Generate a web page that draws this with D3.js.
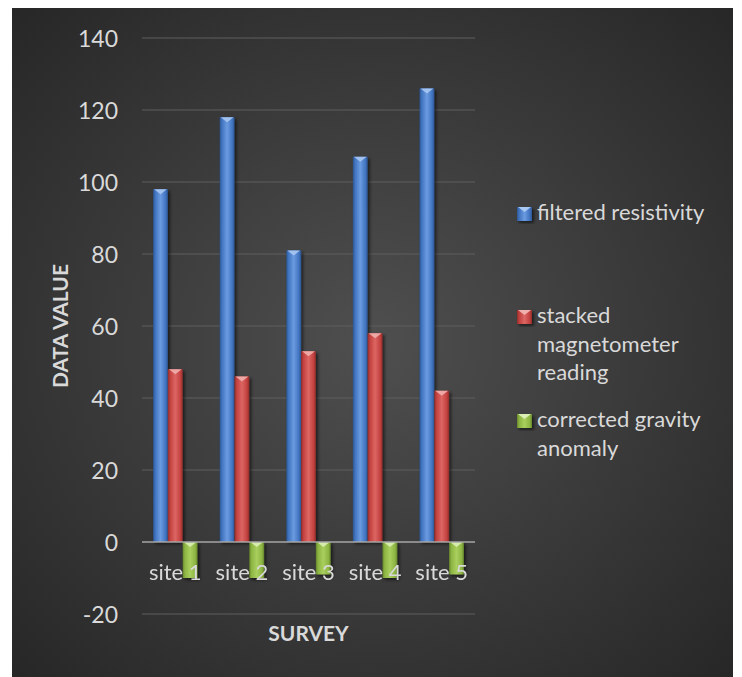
<!DOCTYPE html>
<html>
<head>
<meta charset="utf-8">
<script src="https://cdn.jsdelivr.net/npm/d3@7"></script>
<style>
  html, body { margin: 0; padding: 0; background: #ffffff; }
  svg { display: block; }
  text { font-family: Lato, "Open Sans", sans-serif; fill: #d9d9d9; }
</style>
</head>
<body>
<svg id="chart" width="742" height="677"></svg>
<script>
// Survey readings per site
const sites = ["site 1", "site 2", "site 3", "site 4", "site 5"];
const seriesNames = ["filtered resistivity", "stacked magnetometer reading", "corrected gravity anomaly"];
const resistivity = [98, 118, 81, 107, 126];
const magnetometer = [48, 46, 53, 58, 42];
const gravity = [-10, -10, -9, -10, -9];
const yTicks = [-20, 0, 20, 40, 60, 80, 100, 120, 140];
const legendLines = [["filtered resistivity"], ["stacked", "magnetometer", "reading"], ["corrected gravity", "anomaly"]];

const seriesValues = [resistivity, magnetometer, gravity];
const palette = [
  { base: "#4174c0", light: "#6b9be0", dark: "#2d5590", bevel: "#a9c8f2" },
  { base: "#c2413f", light: "#dc6663", dark: "#8e2c2a", bevel: "#f0b0ae" },
  { base: "#8db543", light: "#a9cf5e", dark: "#66862c", bevel: "#dcefb5" }
];

const svg = d3.select("#chart");
const defs = svg.append("defs");

// chart area background: dark radial fade
const bg = defs.append("radialGradient").attr("id", "bg")
  .attr("cx", "50%").attr("cy", "50%").attr("r", "72%");
bg.append("stop").attr("offset", "0%").attr("stop-color", "#4f4f4f");
bg.append("stop").attr("offset", "100%").attr("stop-color", "#262626");

palette.forEach((p, i) => {
  const g = defs.append("linearGradient").attr("id", "bar" + i)
    .attr("x1", "0%").attr("x2", "100%").attr("y1", "0%").attr("y2", "0%");
  g.append("stop").attr("offset", "0%").attr("stop-color", p.dark);
  g.append("stop").attr("offset", "15%").attr("stop-color", p.base);
  g.append("stop").attr("offset", "50%").attr("stop-color", p.light);
  g.append("stop").attr("offset", "85%").attr("stop-color", p.base);
  g.append("stop").attr("offset", "100%").attr("stop-color", p.dark);
});

const shadow = defs.append("filter").attr("id", "shadow")
  .attr("x", "-50%").attr("y", "-20%").attr("width", "200%").attr("height", "140%");
shadow.append("feDropShadow").attr("dx", 2).attr("dy", 2)
  .attr("stdDeviation", 1.5).attr("flood-color", "#000").attr("flood-opacity", 0.55);

svg.append("rect").attr("x", 12).attr("y", 8).attr("width", 721).attr("height", 669)
  .attr("fill", "url(#bg)");

const plot = { left: 142, right: 475, top: 38, bottom: 614 };

const y = d3.scaleLinear().domain([-20, 140]).range([plot.bottom, plot.top]);
const x0 = d3.scaleBand().domain(sites).range([plot.left, plot.right])
  .paddingInner(1 / 3).paddingOuter(1 / 6);
const x1 = d3.scaleBand().domain(seriesNames).range([0, x0.bandwidth()]);

// gridlines
svg.append("g").selectAll("line").data(yTicks.filter(t => t !== 0)).join("line")
  .attr("x1", plot.left).attr("x2", plot.right)
  .attr("y1", d => y(d)).attr("y2", d => y(d))
  .attr("stroke", "#5e5e5e").attr("stroke-width", 1);

// y axis labels (plain hyphen for negatives)
const yAxis = svg.append("g").attr("transform", `translate(${plot.left},0)`)
  .call(d3.axisLeft(y).tickValues(yTicks).tickSize(0).tickPadding(24).tickFormat(d => String(d)));
yAxis.select(".domain").remove();
yAxis.selectAll("text").style("font-size", "23px").attr("fill", "#d9d9d9").attr("dy", "0.36em");

// bars
function barShape(g, x, w, v, i) {
  const yTop = Math.min(y(0), y(v));
  const h = Math.abs(y(v) - y(0));
  const edge = v >= 0 ? y(v) : y(0);
  g.append("rect").attr("x", x).attr("y", yTop).attr("width", w).attr("height", h)
    .attr("fill", `url(#bar${i})`);
  const bh = Math.min(5, h);
  g.append("path")
    .attr("d", `M${x + 1},${edge} L${x + w - 1},${edge} L${x + w / 2},${edge + bh} Z`)
    .attr("fill", palette[i].bevel).attr("opacity", 0.9);
}

const barsG = svg.append("g").attr("filter", "url(#shadow)");
seriesValues.forEach((vals, i) => {
  sites.forEach((s, k) => {
    const g = barsG.append("g");
    barShape(g, x0(s) + x1(seriesNames[i]), x1.bandwidth(), vals[k], i);
  });
});

// zero line
svg.append("line").attr("x1", plot.left).attr("x2", plot.right)
  .attr("y1", y(0)).attr("y2", y(0)).attr("stroke", "#a6a6a6").attr("stroke-width", 1.5);

// category labels
const xAxis = svg.append("g").attr("transform", `translate(0,${y(0)})`)
  .call(d3.axisBottom(x0).tickSize(0).tickPadding(22));
xAxis.select(".domain").remove();
xAxis.selectAll("text").style("font-size", "22px").attr("fill", "#d9d9d9");

// axis titles
svg.append("text").attr("transform", `translate(68,${(plot.top + plot.bottom) / 2}) rotate(-90)`)
  .attr("text-anchor", "middle").style("font-size", "21px").style("font-weight", "bold")
  .text("DATA VALUE");
svg.append("text").attr("x", (plot.left + plot.right) / 2).attr("y", 641)
  .attr("text-anchor", "middle").style("font-size", "21px").style("font-weight", "bold")
  .text("SURVEY");

// legend
const legendY = [214, 317, 421];
const legend = svg.append("g");
legendLines.forEach((lines, i) => {
  const g = legend.append("g").attr("transform", `translate(517,${legendY[i]})`);
  const m = g.append("g").attr("filter", "url(#shadow)");
  m.append("rect").attr("x", 0).attr("y", -7).attr("width", 15).attr("height", 14)
    .attr("fill", `url(#bar${i})`);
  m.append("path").attr("d", "M1,-7 L14,-7 L7.5,-2 Z").attr("fill", palette[i].bevel);
  const t = g.append("text").attr("x", 20).attr("y", 0).style("font-size", "22px");
  lines.forEach((ln, j) => {
    t.append("tspan").attr("x", 20).attr("y", 6 + j * 28.5).text(ln);
  });
});
</script>
</body>
</html>
